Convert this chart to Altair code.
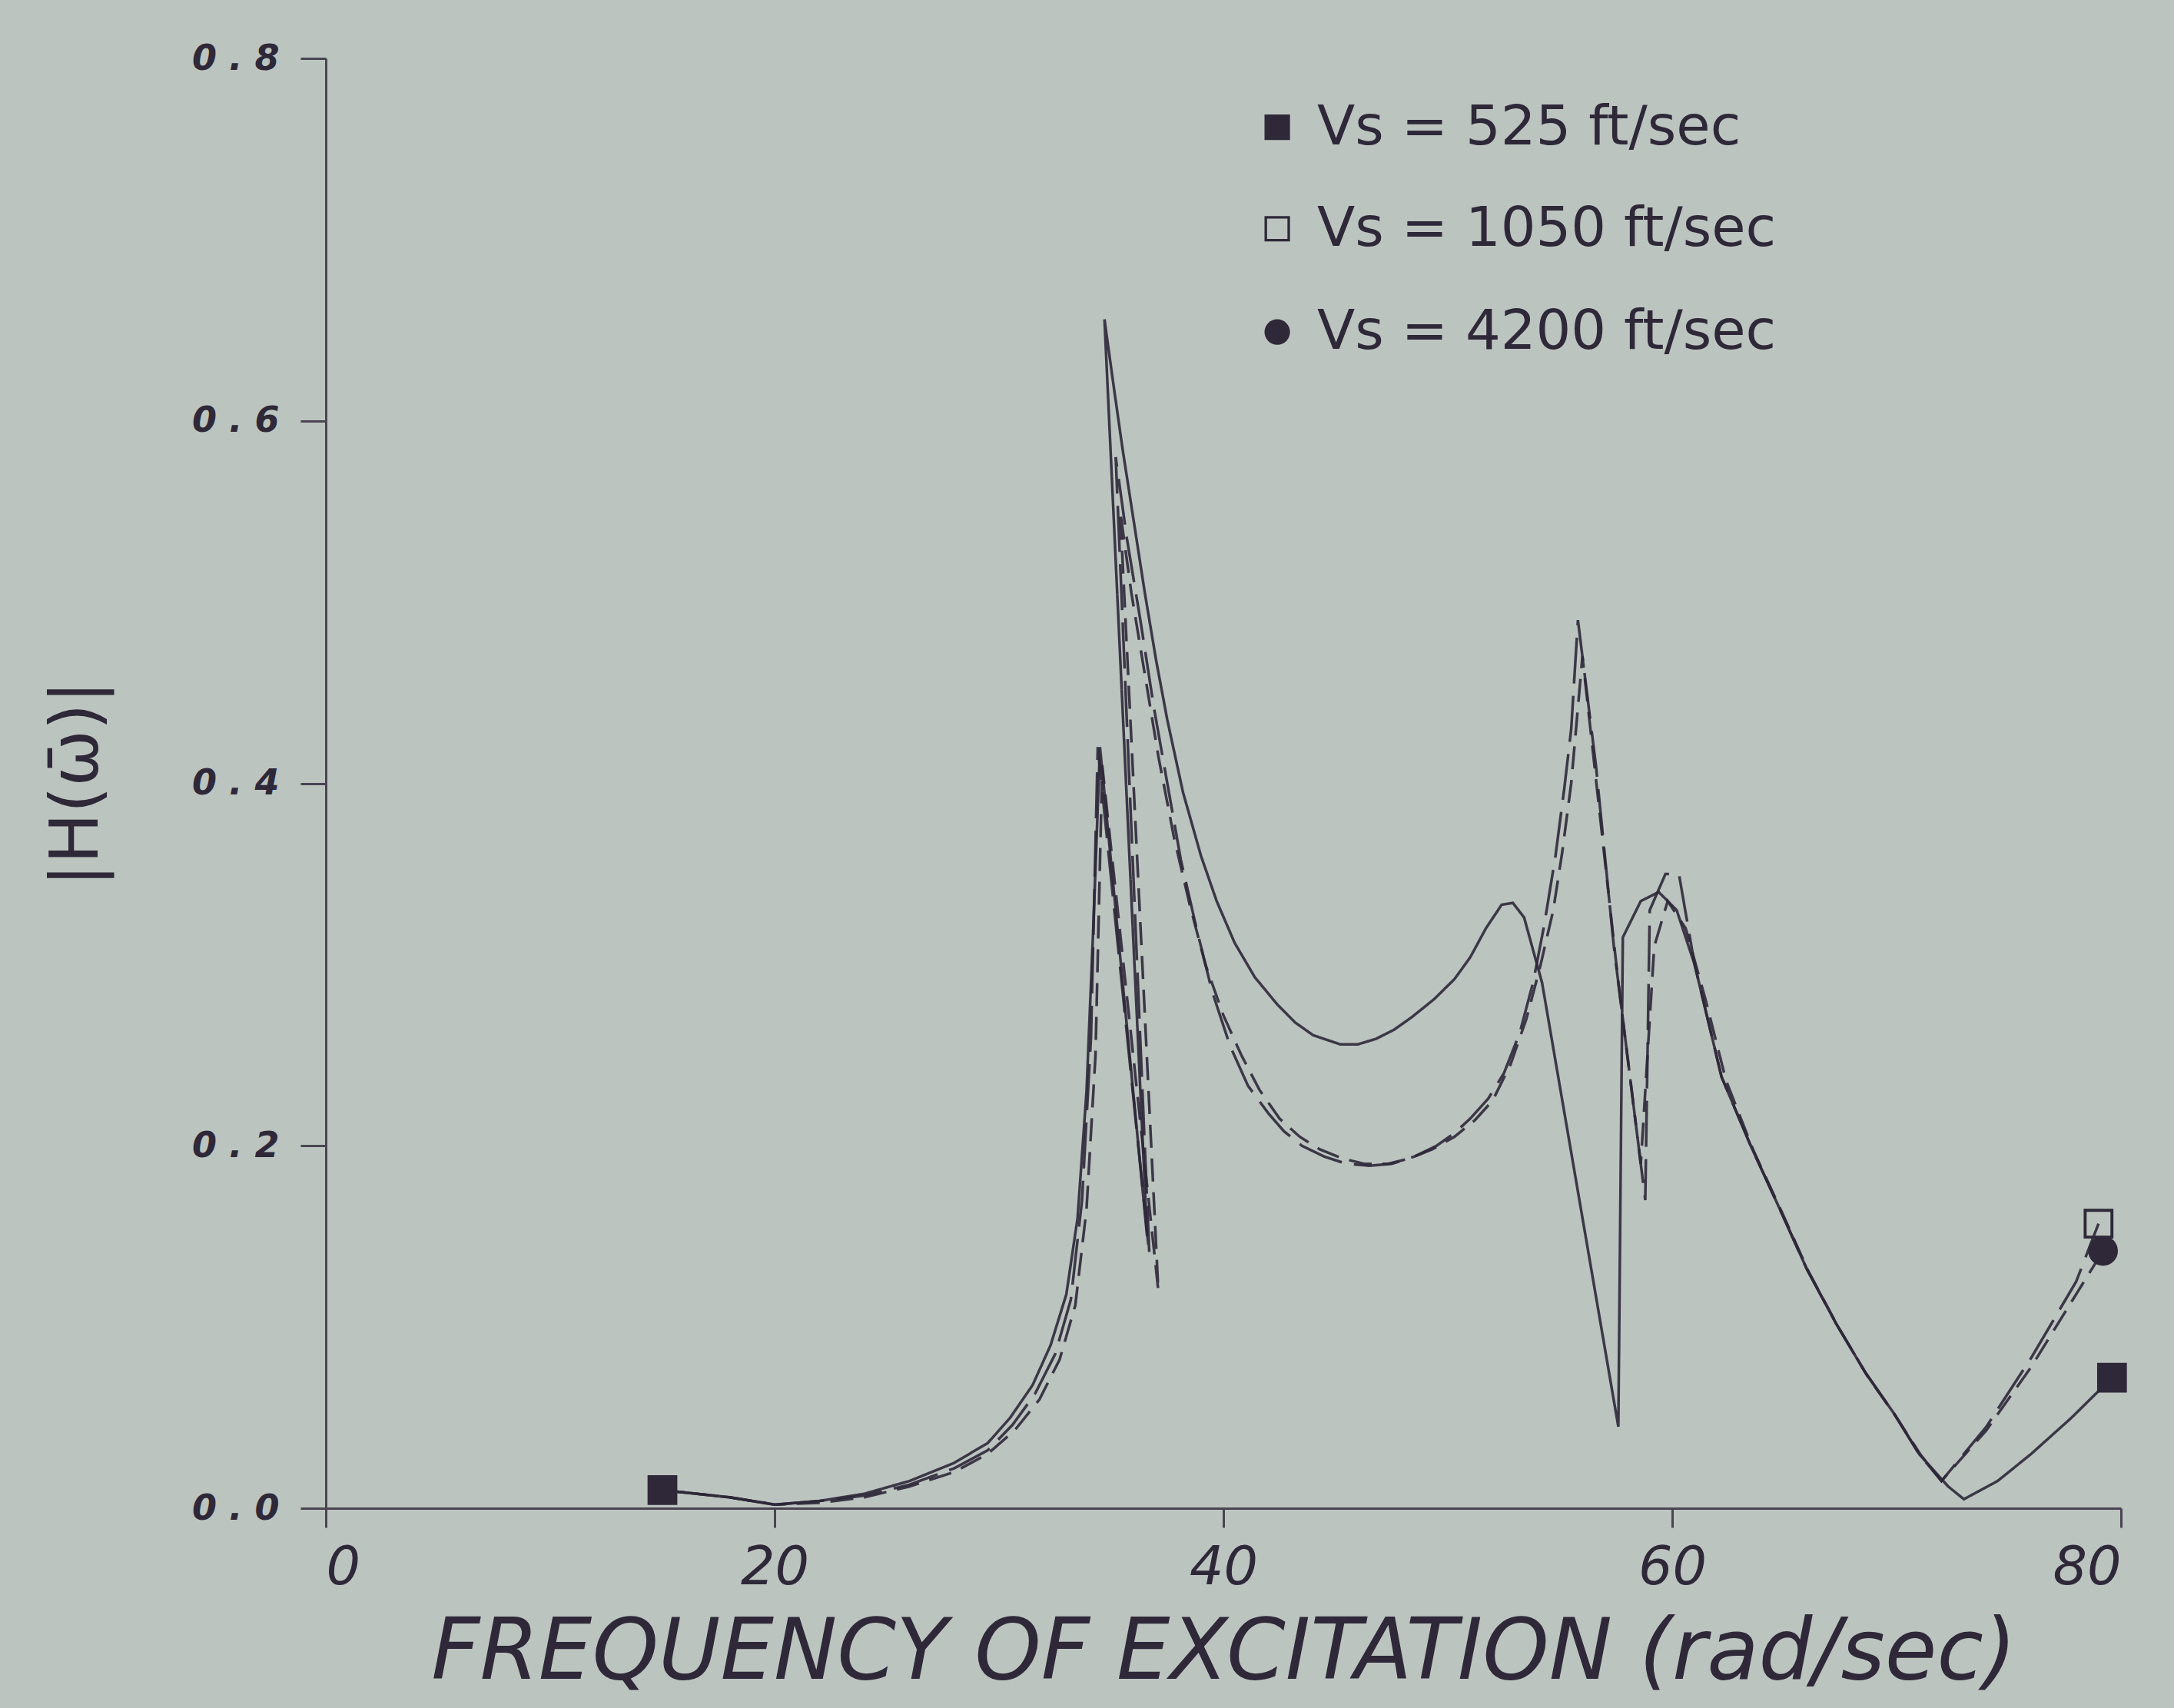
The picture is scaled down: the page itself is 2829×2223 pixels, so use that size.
import altair as alt
import pandas as pd

# ---------------- data ----------------
NAMES = ["Vs = 525 ft/sec", "Vs = 1050 ft/sec", "Vs = 4200 ft/sec"]

X_525 = [15, 18, 20, 22, 24, 26, 28, 29.5, 30.5, 31.5, 32.3, 33.0, 33.5, 33.9, 34.2, 34.5,
         36.6, 34.7, 35.1, 35.5, 36.0, 36.5, 37.0, 37.5, 38.2, 39.0, 39.7, 40.5, 41.4, 42.4,
         43.2, 44.0, 45.2, 46.0, 46.8, 47.6, 48.4, 49.4, 50.3, 51.0, 51.7, 52.4, 52.9, 53.4,
         54.2, 57.6, 57.8, 58.6, 59.4, 60.2, 61.0, 62.2, 63.5, 64.8, 66.0, 67.3,
         68.6, 69.9, 71.0, 72.3, 73.0, 74.5, 76.0, 77.8, 79.6]
Y_525 = [0.010, 0.006, 0.002, 0.004, 0.008, 0.015, 0.025, 0.036, 0.050, 0.068, 0.090, 0.118,
         0.160, 0.230, 0.320, 0.420,
         0.150, 0.656, 0.620, 0.585, 0.545, 0.505, 0.468, 0.435, 0.395, 0.360, 0.335, 0.312,
         0.293, 0.278, 0.268, 0.261, 0.256, 0.256, 0.259, 0.264, 0.271, 0.281, 0.292, 0.304,
         0.320, 0.333, 0.334, 0.326, 0.290, 0.045, 0.315, 0.335, 0.340, 0.330, 0.300, 0.238,
         0.200, 0.165, 0.132, 0.102, 0.075, 0.052, 0.030, 0.012, 0.005, 0.015, 0.030, 0.050,
         0.072]

X_1050 = [15, 18, 20, 22, 24, 26, 28, 29.5, 30.6, 31.6, 32.5, 33.2, 33.7, 34.1, 34.4,
          36.7, 35.2, 35.7, 36.3, 36.9, 37.5, 38.1, 38.8, 39.5, 40.3, 41.1, 42.0, 42.7, 43.5,
          44.5, 45.5, 46.5, 47.5, 48.5, 49.5, 50.3, 51.0, 51.8, 52.5, 53.2, 53.8, 54.3, 54.8,
          55.2, 55.5, 55.8, 56.6, 57.4, 58.0, 58.8, 59.0, 59.7, 60.3, 61.0, 62.2, 63.5, 64.8,
          66.0, 67.3, 68.6, 69.9, 71.0, 72.0, 74.0, 76.0, 78.0, 79.0]
Y_1050 = [0.010, 0.006, 0.002, 0.004, 0.007, 0.013, 0.022, 0.032, 0.046, 0.063, 0.085, 0.115,
          0.170, 0.260, 0.420,
          0.140, 0.580, 0.535, 0.490, 0.442, 0.400, 0.358, 0.320, 0.285, 0.255, 0.233, 0.218,
          0.208, 0.200, 0.194, 0.190, 0.189, 0.190, 0.194, 0.200, 0.207, 0.215, 0.226, 0.240,
          0.262, 0.290, 0.322, 0.360, 0.398, 0.430, 0.490, 0.410, 0.310, 0.250, 0.170, 0.330,
          0.350, 0.350, 0.300, 0.238, 0.200, 0.165, 0.132, 0.102, 0.075, 0.052, 0.030, 0.015,
          0.045, 0.083, 0.125, 0.157]

X_4200 = [15, 18, 20, 22, 24, 26, 28, 29.5, 30.7, 31.8, 32.7, 33.4, 33.9, 34.3, 34.6,
          37.1, 35.4, 35.9, 36.5, 37.1, 37.8, 38.5, 39.2, 40.0, 40.8, 41.6, 42.5, 43.4, 44.3,
          45.3, 46.3, 47.3, 48.3, 49.3, 50.3, 51.2, 52.0, 52.8, 53.5, 54.1, 54.7, 55.1, 55.5,
          56.0, 56.8, 57.6, 58.6, 59.2, 59.8, 60.6, 61.5, 62.4, 63.6, 64.9, 66.1, 67.4,
          68.7, 70.0, 71.1, 72.0, 74.0, 76.0, 78.0, 79.2]
Y_4200 = [0.010, 0.006, 0.002, 0.003, 0.006, 0.012, 0.020, 0.030, 0.043, 0.060, 0.082, 0.112,
          0.165, 0.250, 0.410,
          0.120, 0.550, 0.505, 0.460, 0.415, 0.370, 0.333, 0.300, 0.272, 0.250, 0.231, 0.215,
          0.205, 0.198, 0.193, 0.190, 0.190, 0.193, 0.198, 0.205, 0.214, 0.225, 0.245, 0.270,
          0.298, 0.330, 0.362, 0.400, 0.470, 0.380, 0.290, 0.190, 0.310, 0.335, 0.320, 0.280,
          0.236, 0.198, 0.163, 0.130, 0.100, 0.073, 0.050, 0.029, 0.015, 0.043, 0.078, 0.118,
          0.142]

# plotted symbols (start of the 525 curve and the end of every curve)
MARK_SERIES = [NAMES[0], NAMES[0], NAMES[1], NAMES[2]]
MARK_X = [15, 79.6, 79.0, 79.2]
MARK_Y = [0.010, 0.072, 0.157, 0.142]

# key (legend) rows drawn inside the plot, top right
KEY_X = [42.4, 42.4, 42.4]
KEY_Y = [0.762, 0.706, 0.649]

X_TICKS = [0, 20, 40, 60, 80]
Y_TICKS = [0.0, 0.2, 0.4, 0.6, 0.8]

# ---------------- build tables ----------------
rows = []
for name, xs, ys in zip(NAMES, [X_525, X_1050, X_4200], [Y_525, Y_1050, Y_4200]):
    for i, (xv, yv) in enumerate(zip(xs, ys)):
        rows.append({"curve": name, "x": xv, "y": yv, "idx": i})
df = pd.DataFrame(rows)
mk = pd.DataFrame({"series": MARK_SERIES, "x": MARK_X, "y": MARK_Y})
key = pd.DataFrame({"series": NAMES, "x": KEY_X, "y": KEY_Y})

INK = "#2e2838"
BG = "#bcc4bf"
HOLLOW_SQUARE = "M-1,-1H1V1H-1Z M-0.8,-0.8V0.8H0.8V-0.8Z"
shape_scale = alt.Scale(domain=NAMES, range=["square", HOLLOW_SQUARE, "circle"])

xenc = alt.X("x:Q", scale=alt.Scale(domain=[0, 80], nice=False, zero=False),
             axis=alt.Axis(values=X_TICKS, format="d", title="FREQUENCY OF EXCITATION (rad/sec)",
                           grid=False, tickSize=25, labelPadding=18,
                           labelFont="DejaVu Sans", labelFontSize=70, labelFontStyle="italic",
                           labelColor=INK, titleFont="DejaVu Sans", titleFontSize=110,
                           titleFontStyle="italic", titleFontWeight="normal", titleColor=INK,
                           titlePadding=22, domainColor="#4a4452", domainWidth=3,
                           tickColor="#4a4452", tickWidth=3))
yenc = alt.Y("y:Q", scale=alt.Scale(domain=[0, 0.8], nice=False),
             axis=alt.Axis(values=Y_TICKS, format=".1f",
                           labelExpr="replace(datum.label, '.', ' . ')",
                           title="|H(\u03c9\u0304)|", grid=False, tickSize=33, labelPadding=28,
                           labelFont="DejaVu Sans", labelFontSize=46, labelFontWeight="bold",
                           labelFontStyle="italic", labelColor=INK,
                           titleFont="DejaVu Sans", titleFontSize=88, titleFontWeight="normal",
                           titleColor=INK, titlePadding=105,
                           domainColor="#4a4452", domainWidth=3,
                           tickColor="#4a4452", tickWidth=3))

lines = alt.Chart(df).mark_line(color=INK, strokeWidth=3.5, opacity=0.9).encode(
    x=xenc, y=yenc,
    order="idx:Q",
    detail="curve:N",
    strokeDash=alt.StrokeDash("curve:N",
                              scale=alt.Scale(domain=NAMES, range=[[1, 0], [60, 16], [30, 14]]),
                              legend=None),
)

points = alt.Chart(mk).mark_point(filled=True, size=1500, opacity=1, color=INK).encode(
    x="x:Q", y="y:Q",
    shape=alt.Shape("series:N", scale=shape_scale, legend=None),
)

key_sym = alt.Chart(key).mark_point(filled=True, size=1100, opacity=1, color=INK).encode(
    x="x:Q", y="y:Q",
    shape=alt.Shape("series:N", scale=shape_scale, legend=None),
)

key_txt = alt.Chart(key).mark_text(align="left", baseline="middle", dx=52,
                                   font="DejaVu Sans", fontSize=72, color=INK).encode(
    x="x:Q", y="y:Q", text="series:N",
)

chart = alt.layer(lines, points, key_sym, key_txt).properties(
    width=2336, height=1887,
    autosize=alt.AutoSizeParams(type="none"),
    padding={"left": 424, "top": 76, "right": 69, "bottom": 260},
    background=BG,
).configure_view(stroke=None)

chart.save("out.html", embed_options={"renderer": "svg", "actions": False})
